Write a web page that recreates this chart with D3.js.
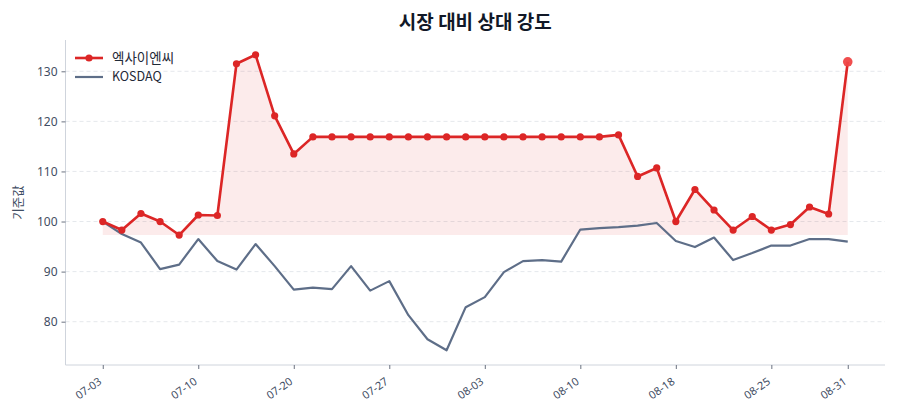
<!DOCTYPE html>
<html><head><meta charset="utf-8">
<script src="https://cdn.jsdelivr.net/npm/d3@7"></script>
<style>
html,body{margin:0;padding:0;background:#fff;}
svg{display:block;font-family:"Noto Sans CJK KR","Noto Sans",sans-serif;}
</style></head>
<body>
<svg id="c" width="900" height="420"></svg>
<script>
const dates = ["07-03","07-04","07-07","07-08","07-09","07-10","07-11","07-14","07-15","07-16",
"07-20","07-21","07-22","07-23","07-24","07-27","07-28","07-29","07-30","07-31",
"08-03","08-04","08-05","08-06","08-07","08-10","08-11","08-12","08-13","08-14",
"08-18","08-19","08-20","08-21","08-22","08-25","08-26","08-27","08-28","08-31"];
const stockValues = [100.0,98.3,101.6,100.0,97.3,101.3,101.2,131.5,133.3,121.1,
113.5,116.9,116.9,116.9,116.9,116.9,116.9,116.9,116.9,116.9,
116.9,116.9,116.9,116.9,116.9,116.9,116.9,117.3,109.0,110.7,
100.0,106.4,102.3,98.3,101.0,98.3,99.4,102.9,101.5,131.9];
const kosdaqValues = [100.0,97.5,95.8,90.5,91.4,96.5,92.1,90.4,95.5,91.1,
86.4,86.8,86.5,91.1,86.2,88.1,81.3,76.5,74.3,82.9,
84.9,89.9,92.1,92.3,92.0,98.4,98.7,98.9,99.2,99.7,
96.1,94.9,96.8,92.3,93.7,95.2,95.2,96.5,96.5,96.0];
const tickIdx = [0,5,10,15,20,25,30,35,39];
const yTicks = [80,90,100,110,120,130];
const seriesNames = ["엑사이엔씨","KOSDAQ"];
const title = "시장 대비 상대 강도";
const yLabel = "기준값";

const svg = d3.select("#c");
const L=65.5, R=885, T=40, B=365;
const n = dates.length;
const x = d3.scaleLinear().domain([-0.05*(n-1), (n-1)*1.05]).range([L,R]);
const allV = stockValues.concat(kosdaqValues);
const mn = d3.min(allV), mx = d3.max(allV), pad=(mx-mn)*0.05;
const y = d3.scaleLinear().domain([mn-pad, mx+pad]).range([B,T]);

const RED="#dc2626", GREY="#5e6e88", TXT="#3f4d63";

// grid
svg.append("g").selectAll("line").data(yTicks).join("line")
  .attr("x1",L).attr("x2",R).attr("y1",d=>y(d)).attr("y2",d=>y(d))
  .attr("stroke","#e2e5ea").attr("stroke-width",0.9).attr("stroke-dasharray","4,3");

// fill
const base = d3.min(stockValues);
const area = d3.area().x((d,i)=>x(i)).y0(y(base)).y1(d=>y(d));
svg.append("path").datum(stockValues).attr("d",area).attr("fill","#dc2626").attr("fill-opacity",0.09);

// axes
const yAxis = d3.axisLeft(y).tickValues(yTicks).tickSize(4).tickPadding(4);
const gy = svg.append("g").attr("transform",`translate(${L},0)`).call(yAxis);
gy.select(".domain").attr("d",`M0,${T}V${B}`).attr("stroke","#cfd4dc");
gy.selectAll(".tick line").attr("stroke","#6b7280");
gy.selectAll("text").attr("fill",TXT).style("font-size","12px").style("font-family","'Noto Sans','Noto Sans CJK KR',sans-serif");

const xAxis = d3.axisBottom(x).tickValues(tickIdx).tickFormat(i=>dates[i]).tickSize(4).tickPadding(3);
const gx = svg.append("g").attr("transform",`translate(0,${B})`).call(xAxis);
gx.select(".domain").attr("d",`M${L},0H${R}`).attr("stroke","#cfd4dc");
gx.selectAll(".tick line").attr("stroke","#6b7280");
gx.selectAll("text").attr("fill",TXT).style("font-size","11px")
  .style("font-family","'Noto Sans','Noto Sans CJK KR',sans-serif")
  .attr("text-anchor","end").attr("dy","0.35em")
  .attr("transform","translate(-3,15) rotate(-35)").attr("y",0).attr("x",0);

// lines
const line = d3.line().x((d,i)=>x(i)).y(d=>y(d));
svg.append("path").datum(kosdaqValues).attr("d",line).attr("fill","none")
  .attr("stroke",GREY).attr("stroke-width",2.2).attr("stroke-linejoin","round");
svg.append("path").datum(stockValues).attr("d",line).attr("fill","none")
  .attr("stroke",RED).attr("stroke-width",2.6).attr("stroke-linejoin","round");
svg.append("g").selectAll("circle").data(stockValues.slice(0,-1)).join("circle")
  .attr("cx",(d,i)=>x(i)).attr("cy",d=>y(d)).attr("r",3.6).attr("fill",RED);
svg.append("circle").attr("cx",x(n-1)).attr("cy",y(stockValues[n-1])).attr("r",4.8)
  .attr("fill","#ef4444").attr("fill-opacity",0.95);

// legend
const lg = svg.append("g");
lg.append("line").attr("x1",75).attr("x2",103).attr("y1",58).attr("y2",58).attr("stroke",RED).attr("stroke-width",2.6);
lg.append("circle").attr("cx",89).attr("cy",58).attr("r",3.6).attr("fill",RED);
lg.append("text").attr("x",112).attr("y",58).attr("dy","0.35em").text(seriesNames[0])
  .attr("fill","#1f2937").style("font-size","13.5px");
lg.append("line").attr("x1",75).attr("x2",103).attr("y1",77).attr("y2",77).attr("stroke",GREY).attr("stroke-width",2.2);
lg.append("text").attr("x",112).attr("y",77).attr("dy","0.35em").text(seriesNames[1])
  .attr("fill","#1f2937").style("font-size","12.5px");

// title
svg.append("text").attr("x",(L+R)/2).attr("y",29).attr("text-anchor","middle")
  .attr("fill","#111827").style("font-size","19px").style("font-weight","bold").text(title);
// y label
svg.append("text").attr("transform",`translate(23,${(T+B)/2}) rotate(-90)`).attr("text-anchor","middle")
  .attr("fill",TXT).style("font-size","12.5px").text(yLabel);
</script>
</body></html>
